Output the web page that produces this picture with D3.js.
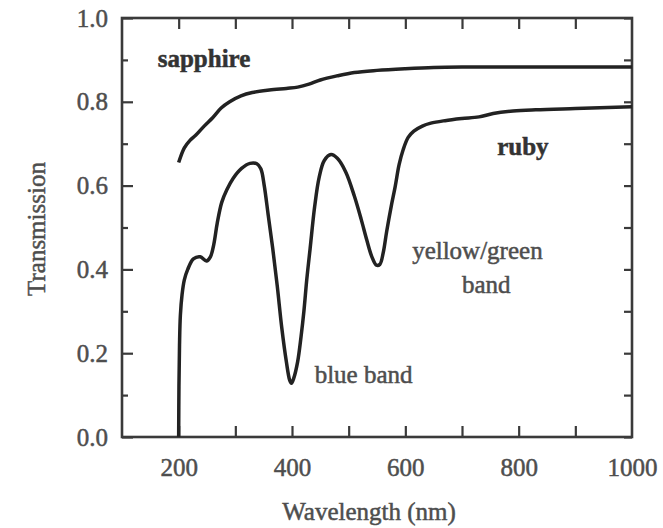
<!DOCTYPE html>
<html>
<head>
<meta charset="utf-8">
<script src="https://cdn.jsdelivr.net/npm/d3@7"></script>
<style>
  body { margin: 0; background: #ffffff; }
  text { font-family: "Liberation Serif", "DejaVu Serif", serif; }
</style>
</head>
<body>
<svg id="chart" width="663" height="528"></svg>
<script>
// Transmission spectra (wavelength in nm, transmission 0..1)
var sapphireWavelength = [200, 210, 220, 230, 245, 260, 275, 290, 310, 330, 360, 390, 410, 430, 450, 480, 510, 550, 600, 650, 700, 800, 900, 1000];
var sapphireValues     = [0.655, 0.69, 0.708, 0.72, 0.742, 0.762, 0.785, 0.80, 0.814, 0.822, 0.828, 0.832, 0.835, 0.842, 0.852, 0.862, 0.870, 0.875, 0.879, 0.882, 0.883, 0.883, 0.883, 0.883];

var rubyWavelength = [200, 200.5, 201.5, 203, 206, 210, 216, 226, 238, 249, 256, 262, 268, 276, 285, 296, 311, 326, 338, 345, 351, 358, 366, 374, 382, 390, 396, 399, 403, 410, 416, 421, 426, 432, 440, 448, 457, 469, 480, 495, 510, 522, 532, 541, 549, 555, 561, 567, 575, 582, 589, 596, 605, 615, 630, 645, 670, 700, 730, 755, 790, 830, 900, 1000];
var rubyValues     = [0, 0.12, 0.22, 0.29, 0.34, 0.375, 0.40, 0.425, 0.43, 0.42, 0.43, 0.46, 0.51, 0.56, 0.59, 0.617, 0.641, 0.653, 0.652, 0.64, 0.60, 0.53, 0.45, 0.36, 0.26, 0.18, 0.135, 0.128, 0.14, 0.18, 0.24, 0.30, 0.375, 0.45, 0.55, 0.62, 0.66, 0.674, 0.665, 0.632, 0.575, 0.52, 0.47, 0.43, 0.41, 0.412, 0.44, 0.49, 0.55, 0.597, 0.65, 0.685, 0.715, 0.73, 0.742, 0.749, 0.755, 0.76, 0.764, 0.772, 0.778, 0.781, 0.784, 0.788];

// tick values
var xMajorTicks = [200, 400, 600, 800, 1000];
var xAllTicks = [200, 300, 400, 500, 600, 700, 800, 900];
var yMajorTicks = [0, 0.2, 0.4, 0.6, 0.8, 1.0];
var yMinorTicks = [0.1, 0.3, 0.5, 0.7, 0.9];

// annotation labels [text, x in nm, y transmission, bold]
var annotations = [
    ["sapphire", 163, 0.883, true],
    ["ruby", 762, 0.673, true],
    ["yellow/green", 612, 0.425, false],
    ["band", 700, 0.344, false],
    ["blue band", 440, 0.129, false]
];

var margin = {left: 122, right: 31, top: 18, bottom: 91};
var width = 663 - margin.left - margin.right;
var height = 528 - margin.top - margin.bottom;

var svg = d3.select('#chart');
var g = svg.append('g')
    .attr('transform', 'translate(' + margin.left + ',' + margin.top + ')');

var x = d3.scaleLinear().domain([100, 1000]).range([0, width]);
var y = d3.scaleLinear().domain([0, 1]).range([height, 0]);

var textColor = '#4e4e4e';
var frameColor = '#3a3a3a';

/** Axes: all ticks point inside the frame */
function styleAxis(sel) {
    sel.select('.domain').remove();
    sel.selectAll('line').attr('stroke', frameColor).attr('stroke-width', 2.2);
    sel.selectAll('text')
        .attr('fill', textColor)
        .attr('stroke', textColor)
        .attr('stroke-width', 0.5)
        .style('font-size', '25px')
        .style('font-family', '"Liberation Serif", serif');
}

// bottom
g.append('g')
    .attr('transform', 'translate(0,' + height + ')')
    .call(d3.axisBottom(x).tickValues(xAllTicks).tickSize(-11).tickFormat(''))
    .call(styleAxis);
g.append('g')
    .attr('transform', 'translate(0,' + height + ')')
    .call(d3.axisBottom(x).tickValues(xMajorTicks).tickSize(0).tickPadding(21).tickFormat(d3.format('d')))
    .call(styleAxis);
// top
g.append('g')
    .call(d3.axisTop(x).tickValues(xAllTicks).tickSize(-11).tickFormat(''))
    .call(styleAxis);
// left
g.append('g')
    .call(d3.axisLeft(y).tickValues(yMajorTicks).tickSize(-11).tickPadding(14).tickFormat(d3.format('.1f')))
    .call(styleAxis)
    .selectAll('text').attr('x', -14);
g.append('g')
    .call(d3.axisLeft(y).tickValues(yMinorTicks).tickSize(-6).tickFormat(''))
    .call(styleAxis);
// right
g.append('g')
    .attr('transform', 'translate(' + width + ',0)')
    .call(d3.axisRight(y).tickValues(yMajorTicks.concat(yMinorTicks)).tickSize(-8).tickFormat(''))
    .call(styleAxis);

// frame
g.append('rect')
    .attr('width', width)
    .attr('height', height)
    .attr('fill', 'none')
    .attr('stroke', frameColor)
    .attr('stroke-width', 2.6);

// curves
var line = d3.line()
    .x(d => x(d[0]))
    .y(d => y(d[1]))
    .curve(d3.curveCatmullRom.alpha(0.5));

var series = [d3.zip(sapphireWavelength, sapphireValues), d3.zip(rubyWavelength, rubyValues)];
g.selectAll('.spectrum')
    .data(series)
    .enter()
    .append('path')
    .attr('class', 'spectrum')
    .attr('d', line)
    .attr('fill', 'none')
    .attr('stroke', '#222')
    .attr('stroke-width', 3.5)
    .attr('stroke-linejoin', 'round');

// labels on the curves
g.selectAll('.note')
    .data(annotations)
    .enter()
    .append('text')
    .attr('class', 'note')
    .attr('x', d => x(d[1]))
    .attr('y', d => y(d[2]))
    .attr('fill', d => d[3] ? '#333' : textColor)
    .attr('stroke', d => d[3] ? '#333' : textColor)
    .attr('stroke-width', 0.5)
    .style('font-weight', d => d[3] ? 'bold' : 'normal')
    .style('font-size', '25px')
    .text(d => d[0]);

// axis titles
svg.append('text')
    .attr('x', 369)
    .attr('y', 520)
    .attr('text-anchor', 'middle')
    .attr('fill', textColor)
    .attr('stroke', textColor)
    .attr('stroke-width', 0.5)
    .style('font-size', '25px')
    .text('Wavelength (nm)');

svg.append('text')
    .attr('transform', 'translate(45,229) rotate(-90)')
    .attr('text-anchor', 'middle')
    .attr('fill', textColor)
    .attr('stroke', textColor)
    .attr('stroke-width', 0.5)
    .style('font-size', '25px')
    .text('Transmission');
</script>
</body>
</html>
